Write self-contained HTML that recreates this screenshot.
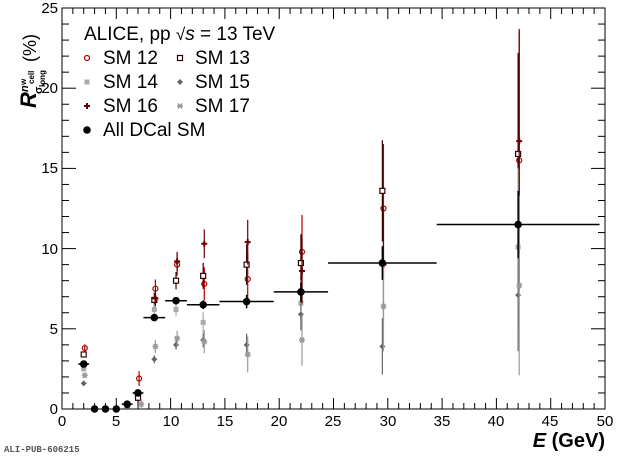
<!DOCTYPE html>
<html><head><meta charset="utf-8"><style>
body{margin:0;background:#fff;}
svg{display:block;font-family:"Liberation Sans",Arial,sans-serif;}
</style></head><body>
<svg id="s" width="620" height="457" xmlns="http://www.w3.org/2000/svg">
<rect x="62" y="8" width="543" height="401" fill="none" stroke="#000" stroke-width="1"/>
<g id="ticks" stroke="#000" stroke-width="1"></g>
<g id="data"></g>
<g font-size="15" text-anchor="middle">
<text x="62" y="426">0</text><text x="116" y="426">5</text><text x="171" y="426">10</text>
<text x="225" y="426">15</text><text x="279" y="426">20</text><text x="333" y="426">25</text>
<text x="388" y="426">30</text><text x="442" y="426">35</text><text x="496" y="426">40</text>
<text x="550" y="426">45</text><text x="605" y="426">50</text>
</g>
<g font-size="15" text-anchor="end">
<text x="58" y="414">0</text><text x="58" y="334">5</text><text x="58" y="254">10</text>
<text x="58" y="173">15</text><text x="58" y="93">20</text><text x="58" y="13">25</text>
</g>
<text x="605" y="447" text-anchor="end" font-size="20" font-weight="bold"><tspan font-style="italic">E</tspan> (GeV)</text>
<g transform="translate(36,108) rotate(-90)" font-weight="bold">
<text x="0" y="0" font-size="22" font-style="italic">R</text>
<text x="16" y="-8" font-size="11" font-style="italic">n</text><text x="23" y="-10" font-size="8">w</text>
<text x="24" y="-2" font-size="8">cell</text>
<text x="14" y="6" font-size="11">σ</text><text x="21" y="9" font-size="8">long</text>
<text x="46" y="0" font-size="18" font-weight="normal">(%)</text>
</g>
<text x="84" y="40" font-size="19">ALICE, pp <tspan font-size="17">√</tspan><tspan font-style="italic">s</tspan> = 13 TeV</text>
<g font-size="19">
<text x="103" y="64">SM 12</text><text x="195" y="64">SM 13</text>
<text x="103" y="88">SM 14</text><text x="195" y="88">SM 15</text>
<text x="103" y="112">SM 16</text><text x="195" y="112">SM 17</text>
<text x="103" y="136">All DCal SM</text>
</g>
<text x="4" y="452" font-size="9" font-family="Liberation Mono,monospace" font-weight="bold" fill="#555">ALI-PUB-606215</text>
</svg>
<script>
const X=e=>62+e*10.86, Y=v=>409-v*16.04, NS="http://www.w3.org/2000/svg";
const T=document.getElementById('ticks'), D=document.getElementById('data');
function el(p,n,a){const e=document.createElementNS(NS,n);for(const k in a)e.setAttribute(k,a[k]);p.appendChild(e);return e;}
for(let i=0;i<=50;i++){const x=X(i),l=i%5==0?11:6;el(T,'line',{x1:x,x2:x,y1:409,y2:409-l});el(T,'line',{x1:x,x2:x,y1:8,y2:8+l});}
for(let i=0;i<=25;i++){const y=Y(i),l=i%5==0?14:7;el(T,'line',{x1:62,x2:62+l,y1:y,y2:y});el(T,'line',{x1:605,x2:605-l,y1:y,y2:y});}
function mk(x,y,t,c){
 if(t=='oc')el(D,'circle',{cx:x,cy:y,r:2.5,fill:'none',stroke:c,'stroke-width':1.2});
 if(t=='os')el(D,'rect',{x:x-2.5,y:y-2.5,width:5,height:5,fill:'#fff',stroke:c,'stroke-width':1.2});
 if(t=='fs')el(D,'rect',{x:x-2.5,y:y-2.5,width:5,height:5,fill:c});
 if(t=='di')el(D,'path',{d:`M${x} ${y-3}L${x+3} ${y}L${x} ${y+3}L${x-3} ${y}Z`,fill:c});
 if(t=='pl')el(D,'path',{d:`M${x-3} ${y}H${x+3}M${x} ${y-3}V${y+3}`,stroke:c,'stroke-width':2});
 if(t=='st')el(D,'path',{d:`M${x-3} ${y}H${x+3}M${x-2} ${y-2.5}L${x+2} ${y+2.5}M${x+2} ${y-2.5}L${x-2} ${y+2.5}`,stroke:c,'stroke-width':1.5});
 if(t=='fc')el(D,'circle',{cx:x,cy:y,r:3.8,fill:c});
}
const base=e=>e<5?0.2:e<8?0.4:e<10?0.5:e<12?0.6:e<15?0.9:e<20?1.4:e<25?2:e<35?3.5:7;
const S=[
 ['oc','#b00000',0.1,1.15,[[2,3.8],[7,1.9],[8.5,7.5],[10.5,9.0],[13,7.8],[17,8.1],[22,9.8],[29.5,12.5],[42,15.5]]],
 ['os','#300',0,0.9,[[2,3.4],[7,0.7],[8.5,6.8],[10.5,8.0],[13,8.3],[17,9.0],[22,9.1],[29.5,13.6],[42,15.9]]],
 ['fs','#aaa',0,0.7,[[2,2.5],[6,0.2],[8.5,6.2],[10.5,6.2],[13,5.4],[22,6.6],[42,10.1]]],
 ['di','#666',0,0.5,[[2,1.6],[6,0.1],[8.5,3.1],[10.5,4.0],[13,4.3],[17,4.0],[22,5.9],[29.5,3.9],[42,7.1]]],
 ['pl','#6a0000',0.1,1.0,[[2,2.8],[8.5,6.9],[10.5,9.2],[13,10.3],[17,10.4],[22,8.6],[29.5,9.0],[42,16.7]]],
 ['st','#999',0.1,0.8,[[2,2.1],[7.2,0.3],[8.5,3.9],[10.5,4.4],[13,4.2],[17,3.4],[22,4.3],[29.5,6.4],[42,7.7]]],
];
for(const [t,c,dx,f,pts] of S)for(const [e,v] of pts){const x=X(e+dx),er=base(e)*f;
 el(D,'line',{x1:x,x2:x,y1:Y(Math.max(v-er,0)),y2:Y(Math.min(v+er,25)),stroke:c,'stroke-width':1.2});mk(x,Y(v),t,c);}
const B=[[2,2.8,1.5,2.5],[3,0,3,3],[4,0,4,4],[5,0,5,5],[6,0.3,5.5,6.5],[7,1.0,6.5,7.5],[8.5,5.7,7.5,9.5],[10.5,6.75,9.5,11.5],[13,6.5,11.5,14.5],[17,6.7,14.5,19.5],[22,7.3,19.5,24.5],[29.5,9.1,24.5,34.5],[42,11.5,34.5,49.5]];
for(const [e,v,a,b] of B){const er=base(e)*0.3;
 el(D,'line',{x1:X(a),x2:X(b),y1:Y(v),y2:Y(v),stroke:'#000','stroke-width':1.5});
 el(D,'line',{x1:X(e),x2:X(e),y1:Y(Math.max(v-er,0)),y2:Y(v+er),stroke:'#000','stroke-width':1.5});
 mk(X(e),Y(v),'fc','#000');}
mk(87,58,'oc','#b00000');mk(180,58,'os','#300');mk(87,82,'fs','#aaa');mk(180,82,'di','#666');
mk(87,106,'pl','#6a0000');mk(180,106,'st','#999');mk(87,130,'fc','#000');
</script>
</body></html>
